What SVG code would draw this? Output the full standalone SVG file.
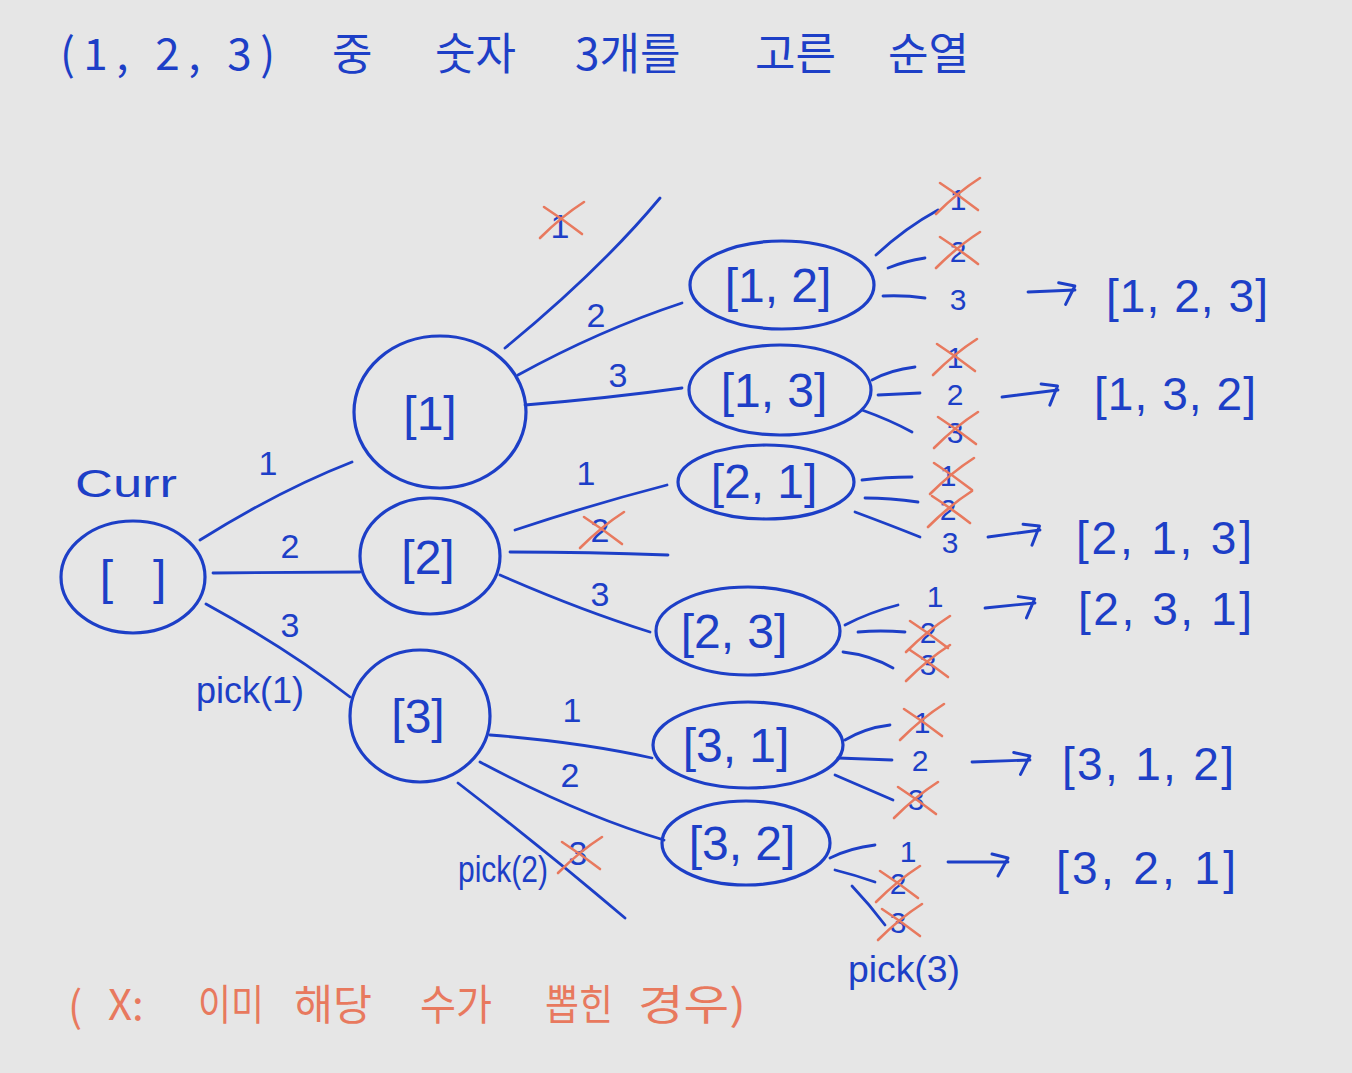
<svg xmlns="http://www.w3.org/2000/svg" xmlns:xlink="http://www.w3.org/1999/xlink" width="1352" height="1073" viewBox="0 0 1352 1073">
<style>
.bg{fill:#e6e6e6}
.nd{fill:none;stroke:#1d3fc7;stroke-width:3.2}
.ln{fill:none;stroke:#1d3fc7;stroke-width:2.8;stroke-linecap:round}
.t{fill:#1d3fc7;font-family:"Liberation Sans","Noto Sans CJK KR",sans-serif}
.k{fill:#1d3fc7;font-family:"Noto Sans CJK KR","Liberation Sans",sans-serif;font-size:44px}
.o{fill:#e8795e;font-family:"Noto Sans CJK KR","Liberation Sans",sans-serif;font-size:42px}
.nl{font-size:48px;text-anchor:middle}
.el{font-size:34px;text-anchor:middle}
.lf{font-size:30px;text-anchor:middle}
.rs{font-size:46px}
.xm{fill:none;stroke:#e8795e;stroke-width:2.6;stroke-linecap:round}
</style>
<defs>
<path id="xm" class="xm" d="M-22,18 Q0,-4 22,-18 M-18,-13 Q2,0 20,14"/>
<marker id="ah" markerUnits="userSpaceOnUse" markerWidth="30" markerHeight="30" refX="0" refY="0" viewBox="-20 -15 30 30" orient="auto" overflow="visible">
<path d="M-16,-8 L0,-4 L-10,14" fill="none" stroke="#1d3fc7" stroke-width="3" stroke-linecap="round" stroke-linejoin="round"/>
</marker>
</defs>
<rect class="bg" x="0" y="0" width="1352" height="1073"/>

<g id="title">
<text class="k" x="60" y="70" textLength="215" lengthAdjust="spacing">(1, 2, 3)</text>
<text class="k" x="332" y="70">중</text>
<text class="k" x="435" y="70">숫자</text>
<text class="k" x="575" y="70">3개를</text>
<text class="k" x="755" y="70">고른</text>
<text class="k" x="888" y="70">순열</text>
</g>

<g id="connectors">
<path class="ln" d="M200,540 Q280,490 352,462"/>
<path class="ln" d="M213,573 L360,572"/>
<path class="ln" d="M206,604 Q290,650 350,697"/>
<path class="ln" d="M505,348 Q600,270 660,198"/>
<path class="ln" d="M518,375 Q600,330 682,303"/>
<path class="ln" d="M525,405 Q610,398 682,388"/>
<path class="ln" d="M515,530 Q590,505 667,485"/>
<path class="ln" d="M510,552 Q590,552 668,555"/>
<path class="ln" d="M500,575 Q580,610 650,632"/>
<path class="ln" d="M490,735 Q580,742 652,758"/>
<path class="ln" d="M480,762 Q580,815 664,840"/>
<path class="ln" d="M458,783 Q545,850 625,918"/>
<path class="ln" d="M876,255 Q905,228 938,210"/>
<path class="ln" d="M888,268 Q905,261 925,258"/>
<path class="ln" d="M883,296 Q905,295 925,298"/>
<path class="ln" d="M872,380 Q890,370 915,367"/>
<path class="ln" d="M878,395 L920,393"/>
<path class="ln" d="M862,410 Q890,420 912,432"/>
<path class="ln" d="M862,480 Q885,477 912,477"/>
<path class="ln" d="M865,498 Q890,498 918,502"/>
<path class="ln" d="M855,512 Q890,525 920,537"/>
<path class="ln" d="M845,625 Q870,612 898,605"/>
<path class="ln" d="M858,632 Q880,630 905,632"/>
<path class="ln" d="M843,652 Q870,655 893,668"/>
<path class="ln" d="M845,740 Q865,728 890,725"/>
<path class="ln" d="M838,758 L892,760"/>
<path class="ln" d="M835,775 Q865,788 893,800"/>
<path class="ln" d="M830,858 Q850,848 875,845"/>
<path class="ln" d="M835,870 Q855,875 875,882"/>
<path class="ln" d="M852,886 Q870,905 885,925"/>
<path class="ln" d="M1028,292 L1075,290" marker-end="url(#ah)"/>
<path class="ln" d="M1002,397 L1058,390" marker-end="url(#ah)"/>
<path class="ln" d="M988,537 L1040,530" marker-end="url(#ah)"/>
<path class="ln" d="M985,608 L1035,603" marker-end="url(#ah)"/>
<path class="ln" d="M972,762 L1030,760" marker-end="url(#ah)"/>
<path class="ln" d="M948,862 L1008,862" marker-end="url(#ah)"/>
</g>

<g id="edge-labels">
<text class="t el" x="268" y="475">1</text>
<text class="t el" x="290" y="558">2</text>
<text class="t el" x="290" y="637">3</text>
<text class="t el" x="560" y="238">1</text>
<use href="#xm" x="562" y="220"/>
<text class="t el" x="596" y="327">2</text>
<text class="t el" x="618" y="387">3</text>
<text class="t el" x="586" y="485">1</text>
<text class="t el" x="600" y="542">2</text>
<use href="#xm" x="602" y="530"/>
<text class="t el" x="600" y="606">3</text>
<text class="t el" x="572" y="722">1</text>
<text class="t el" x="570" y="787">2</text>
<text class="t el" x="578" y="865">3</text>
<use href="#xm" x="580" y="855"/>
<text class="t" x="75" y="497" font-size="38" textLength="102" lengthAdjust="spacingAndGlyphs">Curr</text>
<text class="t" x="196" y="703" font-size="36" textLength="108" lengthAdjust="spacingAndGlyphs">pick(1)</text>
<text class="t" x="458" y="882" font-size="36" textLength="90" lengthAdjust="spacingAndGlyphs">pick(2)</text>
<text class="t" x="848" y="982" font-size="36" textLength="112" lengthAdjust="spacingAndGlyphs">pick(3)</text>
</g>

<g id="node-root">
<ellipse class="nd" cx="133" cy="577" rx="72" ry="56"/>
<text class="t nl" x="133" y="594" font-size="50" xml:space="preserve">[   ]</text>
</g>
<g id="node-1">
<ellipse class="nd" cx="440" cy="412" rx="86" ry="76"/>
<text class="t nl" x="430" y="430" font-size="52">[1]</text>
</g>
<g id="node-2">
<ellipse class="nd" cx="430" cy="556" rx="70" ry="58"/>
<text class="t nl" x="428" y="574" font-size="52">[2]</text>
</g>
<g id="node-3">
<ellipse class="nd" cx="420" cy="716" rx="70" ry="66"/>
<text class="t nl" x="418" y="733" font-size="52">[3]</text>
</g>
<g id="node-12">
<ellipse class="nd" cx="782" cy="285" rx="92" ry="44"/>
<text class="t nl" x="778" y="302">[1, 2]</text>
</g>
<g id="node-13">
<ellipse class="nd" cx="780" cy="390" rx="91" ry="45"/>
<text class="t nl" x="774" y="407">[1, 3]</text>
</g>
<g id="node-21">
<ellipse class="nd" cx="766" cy="482" rx="88" ry="37"/>
<text class="t nl" x="764" y="498">[2, 1]</text>
</g>
<g id="node-23">
<ellipse class="nd" cx="748" cy="631" rx="92" ry="44"/>
<text class="t nl" x="734" y="648">[2, 3]</text>
</g>
<g id="node-31">
<ellipse class="nd" cx="748" cy="745" rx="95" ry="43"/>
<text class="t nl" x="736" y="762">[3, 1]</text>
</g>
<g id="node-32">
<ellipse class="nd" cx="746" cy="843" rx="84" ry="42"/>
<text class="t nl" x="742" y="860">[3, 2]</text>
</g>

<g id="leaves">
<text class="t lf" x="958" y="210">1</text><use href="#xm" x="958" y="196"/>
<text class="t lf" x="958" y="262">2</text><use href="#xm" x="958" y="250"/>
<text class="t lf" x="958" y="310">3</text>
<text class="t lf" x="955" y="368">1</text><use href="#xm" x="955" y="357"/>
<text class="t lf" x="955" y="405">2</text>
<text class="t lf" x="955" y="443">3</text><use href="#xm" x="956" y="430"/>
<text class="t lf" x="948" y="486">1</text><use href="#xm" x="952" y="476"/>
<text class="t lf" x="948" y="520">2</text><use href="#xm" x="950" y="509"/>
<text class="t lf" x="950" y="553">3</text>
<text class="t lf" x="935" y="607">1</text>
<text class="t lf" x="928" y="643">2</text><use href="#xm" x="928" y="634"/>
<text class="t lf" x="928" y="675">3</text><use href="#xm" x="928" y="663"/>
<text class="t lf" x="922" y="733">1</text><use href="#xm" x="922" y="722"/>
<text class="t lf" x="920" y="771">2</text>
<text class="t lf" x="916" y="810">3</text><use href="#xm" x="916" y="800"/>
<text class="t lf" x="908" y="862">1</text>
<text class="t lf" x="898" y="894">2</text><use href="#xm" x="898" y="884"/>
<text class="t lf" x="898" y="933">3</text><use href="#xm" x="900" y="922"/>
</g>

<g id="results">
<text class="t rs" x="1106" y="312" textLength="162" lengthAdjust="spacing">[1, 2, 3]</text>
<text class="t rs" x="1094" y="410" textLength="162" lengthAdjust="spacing">[1, 3, 2]</text>
<text class="t rs" x="1076" y="554" textLength="176" lengthAdjust="spacing">[2, 1, 3]</text>
<text class="t rs" x="1078" y="625" textLength="174" lengthAdjust="spacing">[2, 3, 1]</text>
<text class="t rs" x="1062" y="780" textLength="172" lengthAdjust="spacing">[3, 1, 2]</text>
<text class="t rs" x="1056" y="884" textLength="180" lengthAdjust="spacing">[3, 2, 1]</text>
</g>

<g id="note">
<text class="o" x="68" y="1022">(</text>
<text class="o" x="108" y="1020">X:</text>
<text class="o" x="198" y="1020" textLength="66" lengthAdjust="spacingAndGlyphs">이미</text>
<text class="o" x="294" y="1020" textLength="78" lengthAdjust="spacingAndGlyphs">해당</text>
<text class="o" x="420" y="1020" textLength="72" lengthAdjust="spacingAndGlyphs">수가</text>
<text class="o" x="545" y="1020" textLength="68" lengthAdjust="spacingAndGlyphs">뽑힌</text>
<text class="o" x="638" y="1020" textLength="108" lengthAdjust="spacingAndGlyphs">경우)</text>
</g>
</svg>
